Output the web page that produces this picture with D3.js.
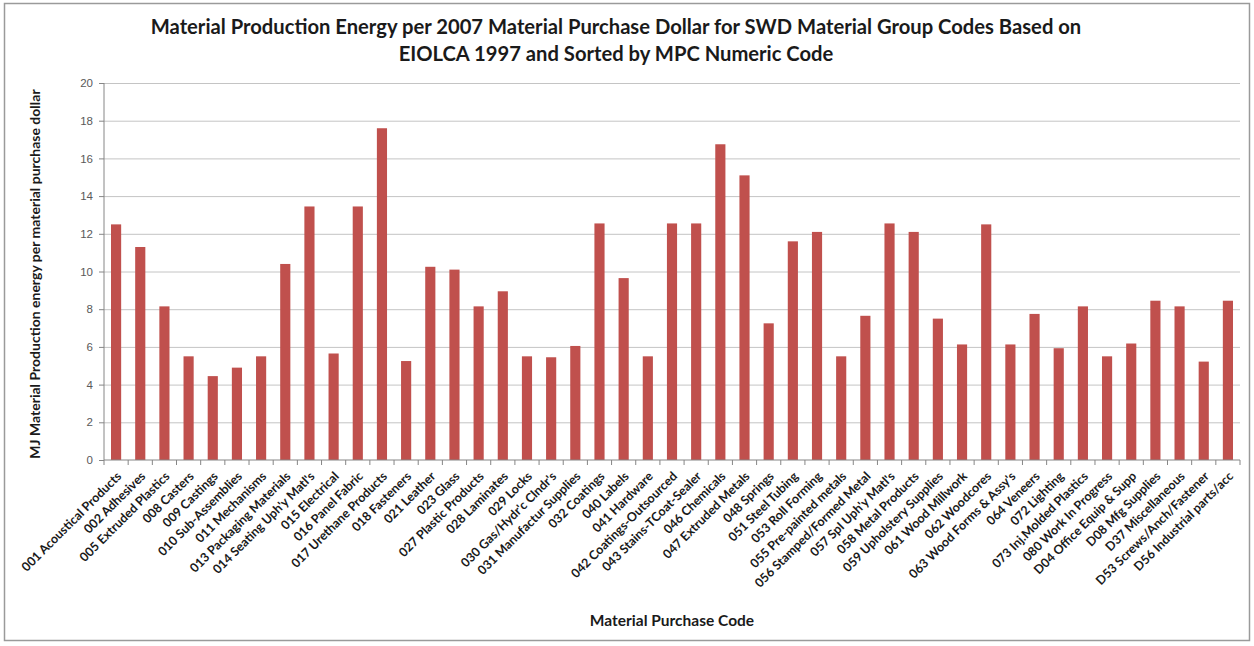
<!DOCTYPE html>
<html>
<head>
<meta charset="utf-8">
<script src="https://cdn.jsdelivr.net/npm/d3@7"></script>
<style>
  body { margin: 0; background: #fff; }
  svg { display: block; font-family: Lato, "Liberation Sans", sans-serif; }
  .grid line { stroke: #c4c4c4; stroke-width: 1; }
  .grid .domain { display: none; }
  .y-axis text { fill: #595959; font-size: 11.5px; }
  .x-axis text { fill: #1a1a1a; font-size: 12.5px; font-weight: bold; }
  .axis path, .axis line { stroke: #868686; }
</style>
</head>
<body>
<svg id="chart" width="1254" height="646"></svg>
<script>
const categories = [
  "001 Acoustical Products", "002 Adhesives", "005 Extruded Plastics", "008 Casters",
  "009 Castings", "010 Sub-Assemblies", "011 Mechanisms", "013 Packaging Materials",
  "014 Seating Uph'y Matl's", "015 Electrical", "016 Panel Fabric", "017 Urethane Products",
  "018 Fasteners", "021 Leather", "023 Glass", "027 Plastic Products", "028 Laminates",
  "029 Locks", "030 Gas/Hydr'c Clndr's", "031 Manufactur  Supplies", "032 Coatings",
  "040 Labels", "041 Hardware", "042 Coatings-Outsourced", "043 Stains-TCoat-Sealer",
  "046 Chemicals", "047 Extruded Metals", "048 Springs", "051 Steel Tubing",
  "053 Roll Forming", "055 Pre-painted metals", "056 Stamped/Formed Metal",
  "057 Spl Uph'y Matl's", "058 Metal Products", "059 Upholstery Supplies",
  "061 Wood Millwork", "062 Woodcores", "063 Wood Forms & Assy's", "064 Veneers",
  "072 Lighting", "073 Inj.Molded Plastics", "080 Work In Progress",
  "D04 Office Equip & Supp", "D08 Mfg Supplies", "D37 Miscellaneous",
  "D53 Screws/Anch/Fastener", "D56 Industrial parts/acc"
];
const energy = [
  12.5, 11.3, 8.15, 5.5, 4.45, 4.9, 5.5, 10.4, 13.45, 5.65, 13.45, 17.6,
  5.25, 10.25, 10.1, 8.15, 8.95, 5.5, 5.45, 6.05, 12.55, 9.65, 5.5, 12.55,
  12.55, 16.75, 15.1, 7.25, 11.6, 12.1, 5.5, 7.65, 12.55, 12.1, 7.5,
  6.13, 12.5, 6.13, 7.75, 5.93, 8.15, 5.5, 6.18, 8.45, 8.15, 5.22, 8.45
];
const yTicks = [0, 2, 4, 6, 8, 10, 12, 14, 16, 18, 20];

const svg = d3.select("#chart");
const plotLeft = 104, plotRight = 1240, plotTop = 83, plotBottom = 460;

// outer frame
svg.append("rect")
  .attr("x", 4.5).attr("y", 3.5)
  .attr("width", 1245).attr("height", 637)
  .attr("fill", "none").attr("stroke", "#9a9a9a").attr("stroke-width", 1.5);

const x = d3.scaleBand()
  .domain(categories)
  .range([plotLeft, plotRight])
  .paddingInner(0.58)
  .paddingOuter(0.29);

const y = d3.scaleLinear()
  .domain([0, 20])
  .range([plotBottom, plotTop]);

// gridlines
svg.append("g")
  .attr("class", "grid")
  .attr("transform", `translate(${plotLeft},0)`)
  .call(d3.axisLeft(y).tickValues(yTicks.slice(1)).tickSize(-(plotRight - plotLeft)).tickFormat(""));

// bars
svg.selectAll(".bar")
  .data(categories)
  .enter()
  .append("rect")
  .attr("class", "bar")
  .attr("x", d => x(d))
  .attr("y", (d, i) => y(energy[i]))
  .attr("width", x.bandwidth())
  .attr("height", (d, i) => plotBottom - y(energy[i]))
  .attr("fill", "#C0504D");

// y axis
svg.append("g")
  .attr("class", "axis y-axis")
  .attr("transform", `translate(${plotLeft},0)`)
  .call(d3.axisLeft(y).tickValues(yTicks).tickSize(5).tickPadding(6))
  .call(g => g.select(".domain").attr("d", `M0,${plotTop}V${plotBottom}`));

// x axis: ticks between categories
const xAxisG = svg.append("g")
  .attr("class", "axis x-axis")
  .attr("transform", `translate(0,${plotBottom})`);
xAxisG.append("line")
  .attr("x1", plotLeft).attr("x2", plotRight)
  .attr("stroke", "#868686");
xAxisG.selectAll(".tk")
  .data(d3.range(categories.length + 1))
  .enter().append("line")
  .attr("class", "tk")
  .attr("x1", i => plotLeft + i * x.step())
  .attr("x2", i => plotLeft + i * x.step())
  .attr("y1", 0).attr("y2", 5)
  .attr("stroke", "#868686");
xAxisG.selectAll(".lbl")
  .data(categories)
  .enter().append("text")
  .attr("class", "lbl")
  .attr("text-anchor", "end")
  .attr("transform", d => `translate(${x(d) + x.bandwidth() / 2 + 6},17) rotate(-45)`)
  .text(d => d);

// titles
const title = svg.append("text")
  .attr("text-anchor", "middle")
  .attr("font-weight", "bold")
  .attr("font-size", 20.2)
  .attr("fill", "#1a1a1a");
title.append("tspan").attr("x", 616).attr("y", 34)
  .text("Material Production Energy per 2007 Material Purchase Dollar for SWD Material Group Codes Based on");
title.append("tspan").attr("x", 616).attr("y", 61)
  .text("EIOLCA 1997 and Sorted by  MPC Numeric Code");

svg.append("text")
  .attr("transform", `translate(40,274) rotate(-90)`)
  .attr("text-anchor", "middle")
  .attr("font-weight", "bold")
  .attr("font-size", 14)
  .attr("fill", "#1a1a1a")
  .text("MJ Material Production energy per material purchase dollar");

svg.append("text")
  .attr("x", 672).attr("y", 626)
  .attr("text-anchor", "middle")
  .attr("font-weight", "bold")
  .attr("font-size", 15.5)
  .attr("fill", "#1a1a1a")
  .text("Material Purchase Code");
</script>
</body>
</html>
